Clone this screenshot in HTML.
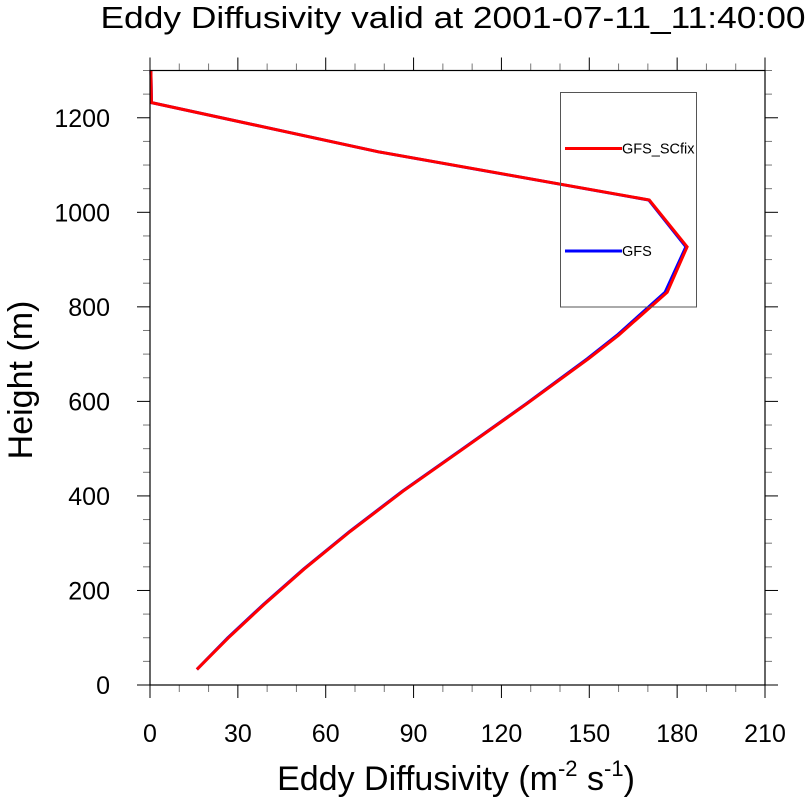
<!DOCTYPE html>
<html><head><meta charset="utf-8"><style>
html,body{margin:0;padding:0;background:#fff;}
svg{display:block;font-family:"Liberation Sans",Arial,sans-serif;}
</style></head><body>
<svg id="chart" width="809" height="801" viewBox="0 0 809 801">
<text x="453" y="28" font-size="31" text-anchor="middle" textLength="705" lengthAdjust="spacingAndGlyphs">Eddy Diffusivity valid at 2001-07-11_11:40:00</text>
<g id="ticks"></g>
<g id="series"></g>
<rect x="150" y="70.5" width="615" height="614.5" fill="none" stroke="#000" stroke-width="1.2"/>
<g id="labels"></g>
<text transform="translate(32,380) rotate(-90)" font-size="34" text-anchor="middle">Height (m)</text>
<text x="456" y="790" font-size="34" text-anchor="middle">Eddy Diffusivity (m<tspan font-size="22" dy="-14">-2</tspan><tspan dy="14"> s</tspan><tspan font-size="22" dy="-14">-1</tspan><tspan dy="14">)</tspan></text>
<g>
<rect x="560.5" y="92.5" width="136" height="214.5" fill="none" stroke="#555" stroke-width="1"/>
<line x1="565" y1="148.5" x2="622" y2="148.5" stroke="#f00" stroke-width="3"/>
<text x="622" y="153.5" font-size="14.5">GFS_SCfix</text>
<line x1="565" y1="251" x2="622" y2="251" stroke="#00f" stroke-width="3"/>
<text x="622" y="256" font-size="14.5">GFS</text>
</g>
</svg>
<script>
const heights = [33,100,170,245,325,410,500,595,690,740,831,927,1026,1128,1232,1300];
const gfsScfix = [16,26.8,38.9,52.6,68.4,86.4,107,128.7,149.7,160,176.6,183.4,170.5,78,0.5,0.3];
const gfs = [16,26.6,38.7,52.4,68.2,86.2,106.8,128.5,149.3,159.5,175.9,183.0,170.3,78,0.5,0.3];
const xTicks = [0,30,60,90,120,150,180,210];
const yTicks = [0,200,400,600,800,1000,1200];
const X0=150,X1=765,Y0=685,Y1=70.5,XMAX=210,YMAX=1300;
const sx=v=>X0+(v/XMAX)*(X1-X0);
const sy=v=>Y0-(v/YMAX)*(Y0-Y1);
const NS='http://www.w3.org/2000/svg';
const tg=document.getElementById('ticks'), lg=document.getElementById('labels'), sg=document.getElementById('series');
function ln(g,x1,y1,x2,y2,w,c){const l=document.createElementNS(NS,'line');l.setAttribute('x1',x1);l.setAttribute('y1',y1);l.setAttribute('x2',x2);l.setAttribute('y2',y2);l.setAttribute('stroke',c);l.setAttribute('stroke-width',w);g.appendChild(l);return l;}
for(let v=0;v<=XMAX;v+=10){const x=sx(v);const maj=v%30===0;const L=maj?13:7;const c=maj?'#000':'#777';
 let a=ln(tg,x,Y0,x,Y0+L,1,c);
 let b=ln(tg,x,Y1,x,Y1-L,1,c);}
for(let v=0;v<=YMAX;v+=50){const y=sy(v);const maj=v%200===0;const L=maj?13:7;const c=maj?'#000':'#777';
 let a=ln(tg,X0,y,X0-L,y,1,c);
 let b=ln(tg,X1,y,X1+L,y,1,c);}
xTicks.forEach(v=>{const t=document.createElementNS(NS,'text');t.setAttribute('x',sx(v));t.setAttribute('y',742);t.setAttribute('font-size','25');t.setAttribute('text-anchor','middle');t.textContent=v;
 lg.appendChild(t);});
yTicks.forEach(v=>{const t=document.createElementNS(NS,'text');t.setAttribute('x',110);t.setAttribute('y',sy(v)+9);t.setAttribute('font-size','25');t.setAttribute('text-anchor','end');t.textContent=v;
 lg.appendChild(t);});
function draw(vals,color,name){const p=document.createElementNS(NS,'polyline');
 p.setAttribute('points',vals.map((v,i)=>sx(v).toFixed(1)+','+sy(heights[i]).toFixed(1)).join(' '));
 p.setAttribute('fill','none');p.setAttribute('stroke',color);p.setAttribute('stroke-width','3');p.setAttribute('stroke-linejoin','miter');
 
 
 sg.appendChild(p);}
draw(gfs,'#00f','gfs-line');
draw(gfsScfix,'#f00','gfs-scfix-line');
</script>
</body></html>
